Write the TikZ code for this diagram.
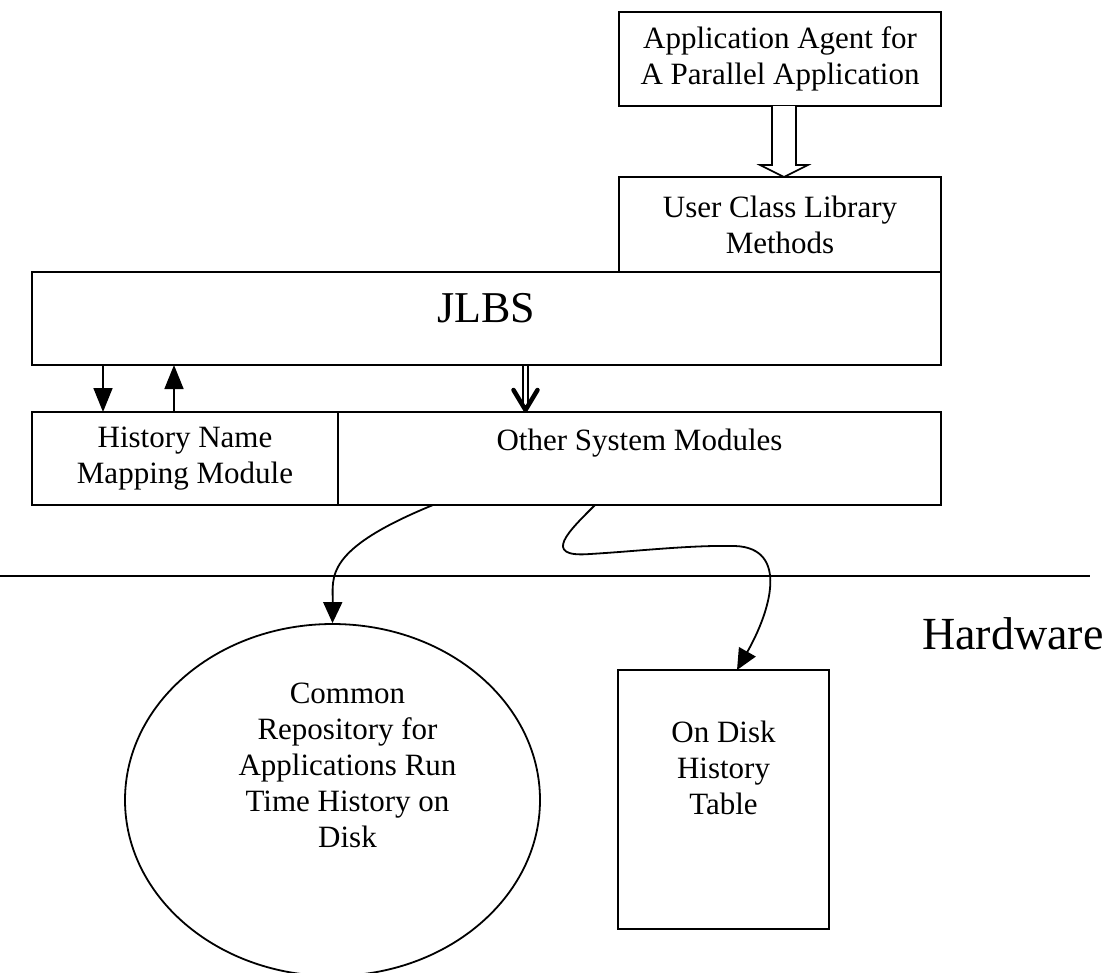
\documentclass[tikz,border=0pt]{standalone}
\usepackage{fontspec}
\setmainfont{Liberation Serif}
\usetikzlibrary{arrows.meta,shapes.geometric}
\newcommand\txt{\fontsize{31}{36}\selectfont}
\newcommand\jtxt{\fontsize{44}{50}\selectfont}
\newcommand\hwtxt{\fontsize{46}{52}\selectfont}
\tikzset{
  box/.style={draw, line width=1.8pt, inner sep=0pt, outer sep=0pt, align=center, font=\txt},
  inlabel/.style={anchor=north, inner sep=0pt, align=center, font=\txt},
  arr/.style={line width=1.6pt, -{Triangle[length=24pt, width=19pt]}},
  curvearr/.style={line width=1.8pt, -{Triangle[length=21pt, width=19pt]}},
}
\begin{document}
\begin{tikzpicture}[x=1pt, y=-1pt]
\useasboundingbox (0,0) rectangle (1110,972);

% software layers
\node[box, minimum width=322pt, minimum height=94pt] (app) at (780,59) {Application Agent for\\A Parallel Application};
\node[box, minimum width=322pt, minimum height=95pt] (ucl) at (780,224.5) {User Class Library\\Methods};
\node[box, minimum width=909pt, minimum height=93pt,
      label={[font=\jtxt, inner sep=0pt, yshift=10pt]center:JLBS}] (jlbs) at (486.5,318.5) {};
\node[box, minimum width=306pt, minimum height=93pt] (hnmm) at (185,458.5) {History Name\\Mapping Module};
\node[box, minimum width=603pt, minimum height=93pt,
      label={[inlabel, yshift=-17pt]north:Other System Modules}] (osm) at (639.5,458.5) {};

% hollow arrow from the agent to the class library
\coordinate (ha) at (784,0);
\filldraw[fill=white, line width=1.6pt, line join=miter]
  ([xshift=-12pt]app.south -| ha) -- ++(0,59) -- ++(-12,0) -- (ucl.north -| ha)
  -- ++(24,-12) -- ++(-12,0) -- ([xshift=12pt]app.south -| ha);

% links between JLBS and the modules
\coordinate (d1) at (103,0);
\coordinate (u1) at (174,0);
\coordinate (dd) at (525.5,0);
\draw[arr] (jlbs.south -| d1) -- (hnmm.north -| d1);
\draw[arr] (hnmm.north -| u1) -- (jlbs.south -| u1);
\draw[line width=1.3pt] ([xshift=-2.6pt]jlbs.south -| dd) -- ([xshift=-2.6pt,yshift=8pt]osm.north -| dd);
\draw[line width=1.3pt] ([xshift=2.6pt]jlbs.south -| dd) -- ([xshift=2.6pt,yshift=8pt]osm.north -| dd);
\draw[line width=4.5pt, line cap=round, line join=round]
  ([xshift=-12pt,yshift=22pt]osm.north -| dd) -- ([yshift=2pt]osm.north -| dd) -- ([xshift=12pt,yshift=22pt]osm.north -| dd);

% hardware boundary
\coordinate (hl) at (0,576);
\coordinate (hr) at (1090,576);
\draw[line width=1.8pt] (hl) -- (hr);
\node[font=\hwtxt, anchor=base west, inner sep=0pt] (hw) at (922,649) {Hardware};

% storage
\node[draw, ellipse, line width=1.8pt, minimum width=415pt, minimum height=352pt, inner sep=0pt,
      label={[inlabel, xshift=15pt, yshift=-60pt]north:Common\\Repository for\\Applications Run\\Time History on\\Disk}] (rep) at (332.5,800) {};
\node[box, minimum width=211pt, minimum height=259pt,
      label={[inlabel, yshift=-51pt]north:On Disk\\History\\Table}] (tbl) at (723.5,799.5) {};

% data paths to the disk
\coordinate (s1) at (433,0);
\coordinate (s2) at (595,0);
\draw[curvearr] (osm.south -| s1) .. controls (323,550) and (333,577) .. (rep.north);
\draw[curvearr] (osm.south -| s2) .. controls (570,530) and (540,558) .. (590,554)
  .. controls (640,551) and (690,545) .. (735,546)
  .. controls (790,548) and (770,612) .. (tbl.north -| 737,0);
\end{tikzpicture}
\end{document}
